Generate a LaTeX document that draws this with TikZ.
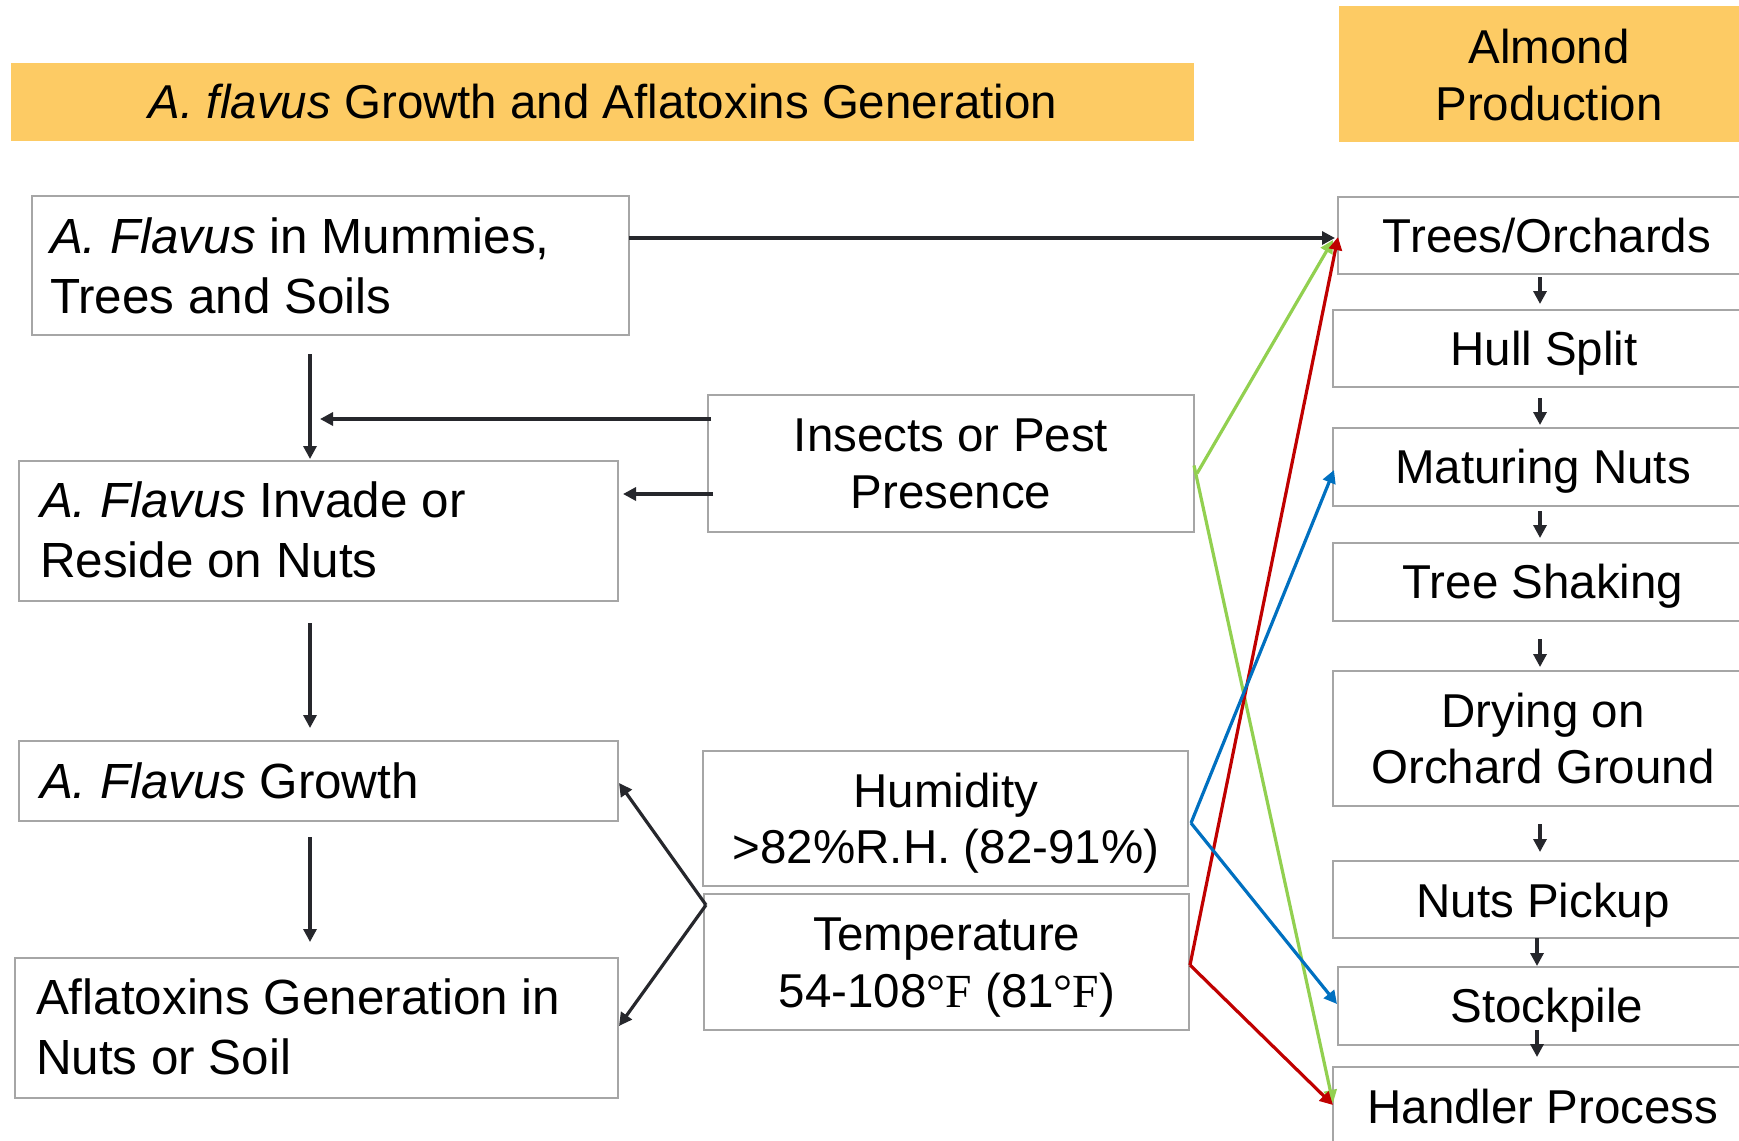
\documentclass[tikz,border=0pt]{standalone}
\usepackage{fontspec}
\setmainfont{Liberation Sans}
\newfontfamily\serifF{Liberation Serif}
\usetikzlibrary{arrows.meta,fit,calc}
\definecolor{banner}{HTML}{FDCB64}
\definecolor{bgray}{HTML}{A6A6A6}
\definecolor{adark}{HTML}{26272C}
\definecolor{agreen}{HTML}{92D050}
\definecolor{ared}{HTML}{C00000}
\definecolor{ablue}{HTML}{0070C0}
\begin{document}
\begin{tikzpicture}[x=0.5pt,y=-0.5pt,
  box/.style={draw=bgray, line width=0.9pt, inner sep=0pt, outer sep=0pt, rectangle},
  ban/.style={fill=banner, inner sep=0pt, outer sep=0pt, rectangle},
  tx/.style={inner sep=0pt, outer sep=0pt, font=\fontsize{23.75}{28}\selectfont, anchor=base},
  txl/.style={inner sep=0pt, outer sep=0pt, font=\fontsize{24.7}{29}\selectfont, anchor=base west},
  arr/.style={draw=adark, line width=1.6pt, -{Triangle[length=6.5pt,width=6.5pt]}},
  carr/.style={line width=1.6pt, -{Triangle[length=6.5pt,width=6.5pt]}},
]
\useasboundingbox (0,0) rectangle (1739,1140);
\clip (0,0) rectangle (1739,1140);
\fill[white] (0,0) rectangle (1739,1140);

% banners
\node[ban, fit={(11,63) (1194,141)}] (ttl) {};
\node[tx] (ttlt) at (603,118) {\textit{A. flavus} Growth and Aflatoxins Generation};
\node[ban, fit={(1339,6) (1760,142)}] (alm) {};
\node[tx] (almt1) at (1549,63) {Almond};
\node[tx] (almt2) at (1549,120) {Production};

% left column
\node[box, fit={(32,196) (629,335)}] (b1) {};
\node[txl] (b1t1) at (50,253) {\textit{A. Flavus} in Mummies,};
\node[txl] (b1t2) at (50,313) {Trees and Soils};
\node[box, fit={(19,461) (618,601)}] (b2) {};
\node[txl] (b2t1) at (40,517) {\textit{A. Flavus} Invade or};
\node[txl] (b2t2) at (40,577) {Reside on Nuts};
\node[box, fit={(19,741) (618,821)}] (b3) {};
\node[txl] (b3t1) at (40,798) {\textit{A. Flavus} Growth};
\node[box, fit={(15,958) (618,1098)}] (b4) {};
\node[txl] (b4t1) at (36,1014) {Aflatoxins Generation in};
\node[txl] (b4t2) at (36,1074) {Nuts or Soil};

% middle column
\node[box, fit={(708,395) (1194,532)}] (ins) {};
\node[tx] (inst1) at (951,451) {Insects or Pest};
\node[tx] (inst2) at (951,508) {Presence};
\node[box, fit={(703,751) (1188,886)}] (hum) {};
\node[tx] (humt1) at (946,807) {Humidity};
\node[tx] (humt2) at (946,863) {>82\%R.H. (82-91\%)};
\node[box, fit={(704,894) (1189,1030)}] (tmp) {};
\node[tx] (tmpt1) at (947,950) {Temperature};
\node[tx] (tmpt2) at (947,1007) {54-108{\serifF °F} (81{\serifF °F})};

% right column
\node[box, fit={(1338,197) (1760,274)}] (r1) {};
\node[tx] (r1t) at (1547,252) {Trees/Orchards};
\node[box, fit={(1333,310) (1760,387)}] (r2) {};
\node[tx] (r2t) at (1544,365) {Hull Split};
\node[box, fit={(1333,428) (1760,506)}] (r3) {};
\node[tx] (r3t) at (1543,483) {Maturing Nuts};
\node[box, fit={(1333,543) (1760,621)}] (r4) {};
\node[tx] (r4t) at (1543,598) {Tree Shaking};
\node[box, fit={(1333,671) (1760,806)}] (r5) {};
\node[tx] (r5t1) at (1543,727) {Drying on};
\node[tx] (r5t2) at (1543,783) {Orchard Ground};
\node[box, fit={(1333,861) (1760,938)}] (r6) {};
\node[tx] (r6t) at (1543,917) {Nuts Pickup};
\node[box, fit={(1338,967) (1760,1045)}] (r7) {};
\node[tx] (r7t) at (1547,1022) {Stockpile};
\node[box, fit={(1333,1067) (1760,1180)}] (r8) {};
\node[tx] (r8t) at (1543,1123) {Handler Process};

% helper coordinates
\coordinate (cx) at (310,0);
\coordinate (ax) at (1540,0);
\coordinate (ax2) at (1537,0);
\coordinate (ia) at (320,419);
\coordinate (ib) at (713,494);
\coordinate (jt) at (706,905);

% left column arrows
\draw[arr, shorten <=9.5pt, shorten >=1pt] (b1.south -| cx) -- (b2.north -| cx);
\draw[arr, shorten <=11pt, shorten >=6.5pt] (b2.south -| cx) -- (b3.north -| cx);
\draw[arr, shorten <=8pt, shorten >=8pt] (b3.south -| cx) -- (b4.north -| cx);
\draw[arr, shorten <=-1.5pt] (ins.west |- ia) -- (ia);
\draw[arr, shorten <=-2.5pt, shorten >=2.5pt] (ins.west |- ib) -- (b2.east |- ib);
\draw[arr] ($(b1.east |- r1.west)+(0,2.5)$) -- ($(r1.west)+(-3,2.5)$);
\draw[arr] (jt) -- ($(b3.east)+(1,2)$);
\draw[arr] (jt) -- ($(b4.east)+(1,-2)$);

% right column arrows
\draw[arr, shorten <=1.5pt, shorten >=3pt] (r1.south -| ax) -- (r2.north -| ax);
\draw[arr, shorten <=5.5pt, shorten >=1.5pt] (r2.south -| ax) -- (r3.north -| ax);
\draw[arr, shorten <=2.5pt, shorten >=2.5pt] (r3.south -| ax) -- (r4.north -| ax);
\draw[arr, shorten <=9pt, shorten >=2pt] (r4.south -| ax) -- (r5.north -| ax);
\draw[arr, shorten <=9pt, shorten >=4.5pt] (r5.south -| ax) -- (r6.north -| ax);
\draw[arr, shorten >=0.5pt] (r6.south -| ax2) -- (r7.north -| ax2);
\draw[arr, shorten >=5pt] ($(r7.south -| ax2)+(0,-15)$) -- (r8.north -| ax2);

% coloured arrows
\draw[carr, agreen] ($(ins.east)+(3,10)$) -- ($(r1.west)+(-5,4.5)$);
\draw[carr, agreen] ($(ins.east)+(0,2)$) -- ($(r8.west)+(0,-20.5)$);
\draw[carr, ared] ($(tmp.east)+(1,3)$) -- ($(r1.west)+(0,1.5)$);
\draw[carr, ared] ($(tmp.east)+(1,3)$) -- ($(r8.west)+(0,-18.5)$);
\draw[carr, ablue] ($(hum.east)+(3,4.5)$) -- ($(r3.west)+(1,3)$);
\draw[carr, ablue] ($(hum.east)+(3,4.5)$) -- ($(r7.west)+(-1,-2)$);
\end{tikzpicture}
\end{document}
